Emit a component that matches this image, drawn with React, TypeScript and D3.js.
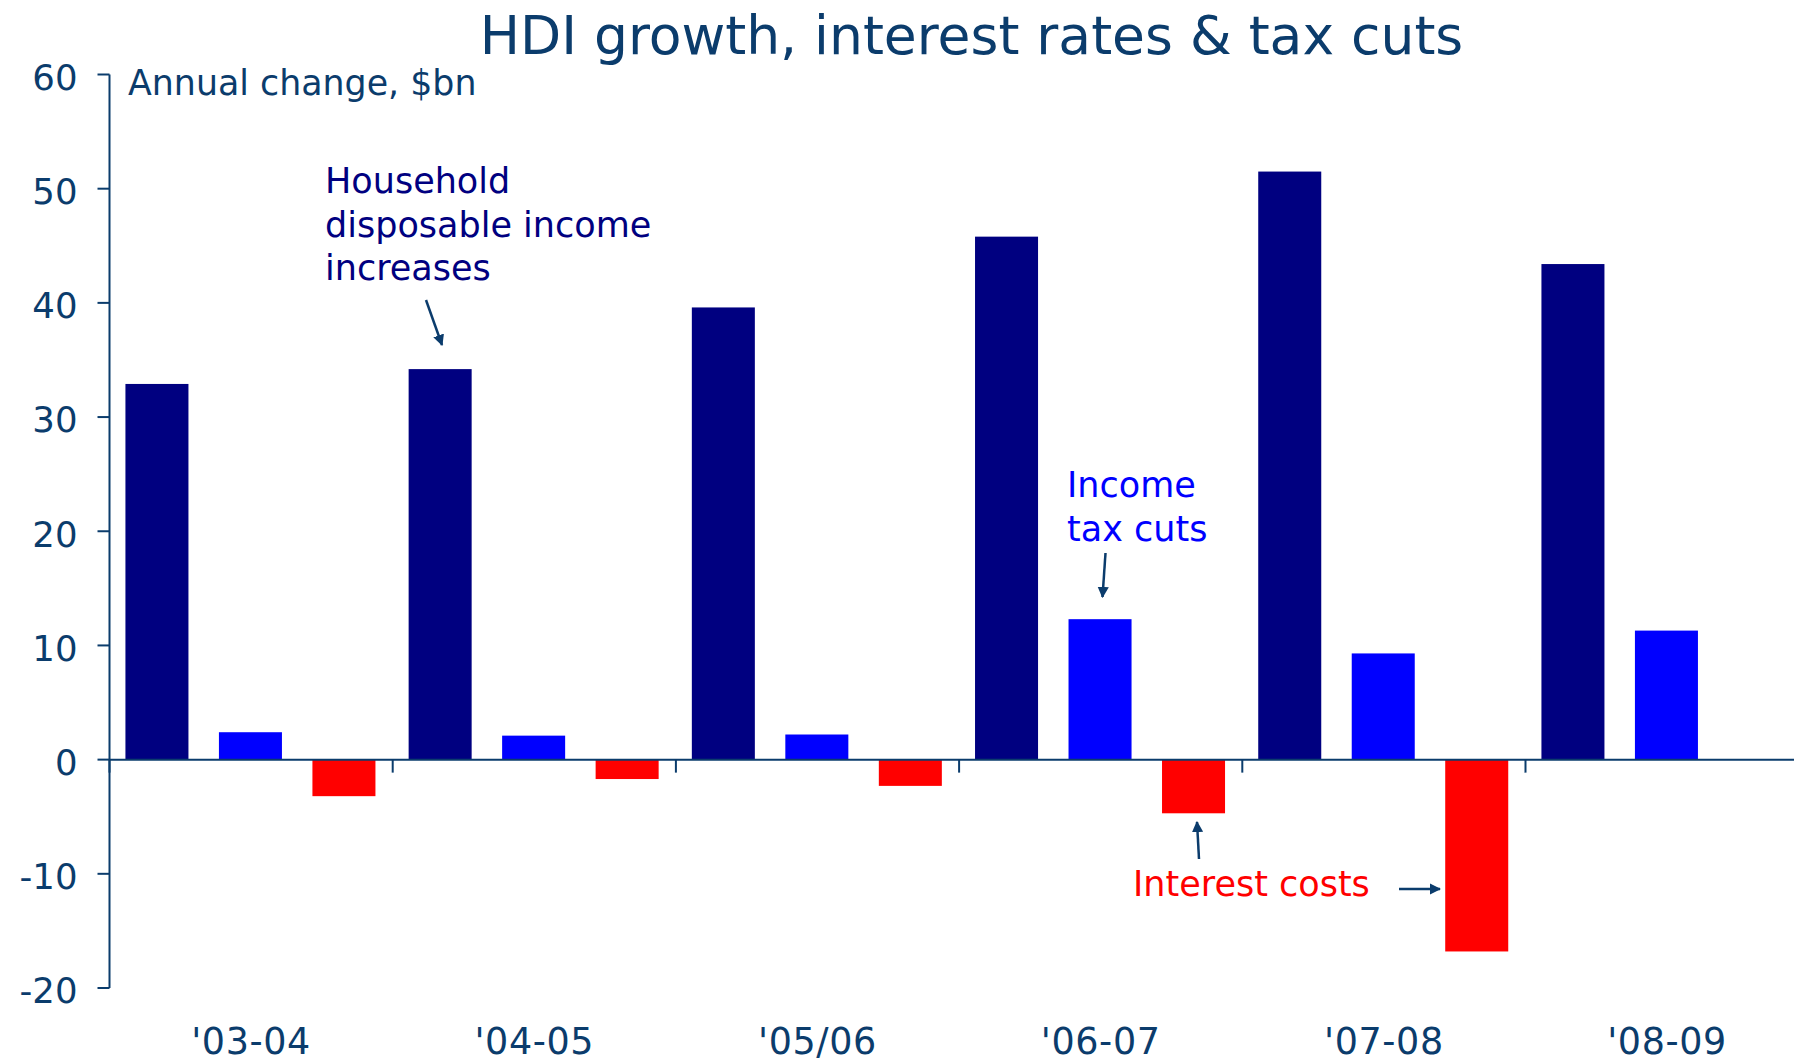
import React from 'react';
import * as d3 from 'd3';

// chart data
const years = ["'03-04", "'04-05", "'05/06", "'06-07", "'07-08", "'08-09"];
const seriesKeys = ['hdi', 'tax', 'interest'];
const hdiGrowth = [32.9, 34.2, 39.6, 45.8, 51.5, 43.4];
const taxCuts = [2.4, 2.1, 2.2, 12.3, 9.3, 11.3];
const interestCosts = [-3.2, -1.7, -2.3, -4.7, -16.8, 0];
const yTicks = [60, 50, 40, 30, 20, 10, 0, -10, -20];

const W = 1794;
const H = 1064;
const FONT = '"DejaVu Sans", Verdana, sans-serif';
const AXIS_COL = '#0b3c6c';
const colors: Record<string, string> = { hdi: '#000080', tax: '#0000ff', interest: '#ff0000' };

const App: React.FC = () => {
  const axisX = 109.5;
  const bandW = 283.2;

  const x0 = d3.scaleBand<string>()
    .domain(years)
    .range([axisX, axisX + bandW * years.length])
    .paddingInner(0)
    .paddingOuter(0);

  const x1 = d3.scaleBand<string>()
    .domain(seriesKeys)
    .range([0, x0.bandwidth()])
    .paddingInner(0.326)
    .paddingOuter(0.1775)
    .align(0.48);

  const y = d3.scaleLinear().domain([-20, 60]).range([988, 74.5]);

  const rows = years.map((yr, i) => ({
    year: yr,
    values: [
      { key: 'hdi', v: hdiGrowth[i] },
      { key: 'tax', v: taxCuts[i] },
      { key: 'interest', v: interestCosts[i] },
    ],
  }));

  const arrow = (x1a: number, y1a: number, x2a: number, y2a: number, key: string) => (
    <line key={key} x1={x1a} y1={y1a} x2={x2a} y2={y2a}
      stroke={AXIS_COL} strokeWidth={2.5} markerEnd="url(#arrowHead)" />
  );

  return (
    <svg width={W} height={H} style={{ position: 'absolute', left: 0, top: 0, background: '#fff' }}
      fontFamily={FONT}>
      <defs>
        <marker id="arrowHead" viewBox="0 0 10 10" refX="9" refY="5" markerWidth="4.5" markerHeight="4.5"
          orient="auto" markerUnits="strokeWidth">
          <path d="M0,0 L10,5 L0,10 z" fill={AXIS_COL} />
        </marker>
      </defs>

      {/* title */}
      <text x={971.5} y={54} textAnchor="middle" fontSize={53.5} fill={AXIS_COL}>
        HDI growth, interest rates &amp; tax cuts
      </text>
      <text x={128} y={95} fontSize={34.8} fill={AXIS_COL}>Annual change, $bn</text>

      {/* bars */}
      {rows.map(r => (
        <g key={r.year} transform={`translate(${x0(r.year)},0)`}>
          {r.values.filter(d => d.v !== 0).map(d => (
            <rect key={d.key}
              x={x1(d.key)}
              y={y(Math.max(0, d.v))}
              width={x1.bandwidth()}
              height={Math.abs(y(d.v) - y(0))}
              fill={colors[d.key]} />
          ))}
        </g>
      ))}

      {/* y axis */}
      <line x1={axisX} x2={axisX} y1={y(60)} y2={y(-20)} stroke={AXIS_COL} strokeWidth={2} />
      {yTicks.map(t => (
        <g key={t}>
          <line x1={axisX - 12} x2={axisX} y1={y(t)} y2={y(t)} stroke={AXIS_COL} strokeWidth={2} />
          <text x={77.5} y={y(t)} dy="0.43em" textAnchor="end" fontSize={35.5} fill={AXIS_COL}>{t}</text>
        </g>
      ))}

      {/* x axis at zero */}
      <line x1={axisX} x2={W} y1={y(0)} y2={y(0)} stroke={AXIS_COL} strokeWidth={2} />
      {years.map(yr => (
        <g key={yr}>
          <line x1={x0(yr)!} x2={x0(yr)!} y1={y(0)} y2={y(0) + 13} stroke={AXIS_COL} strokeWidth={2} />
          <text x={x0(yr)! + x0.bandwidth() / 2} y={1054} textAnchor="middle" fontSize={36.5}
            letterSpacing={0.6} fill={AXIS_COL}>
            {yr}
          </text>
        </g>
      ))}

      {/* annotations */}
      <text fontSize={35} fill="#000080">
        <tspan x={325} y={193}>Household</tspan>
        <tspan x={325} y={236.5}>disposable income</tspan>
        <tspan x={325} y={280}>increases</tspan>
      </text>
      {arrow(426, 300, 442, 345, 'a1')}

      <text fontSize={35} fill="#0000ff">
        <tspan x={1067} y={497}>Income</tspan>
        <tspan x={1067} y={540.5}>tax cuts</tspan>
      </text>
      {arrow(1105.5, 553, 1102.5, 597, 'a2')}

      <text x={1133} y={896} fontSize={35} fill="#ff0000">Interest costs</text>
      {arrow(1199, 859, 1197, 822, 'a3')}
      {arrow(1399, 889, 1440, 889, 'a4')}
    </svg>
  );
};

export default App;
